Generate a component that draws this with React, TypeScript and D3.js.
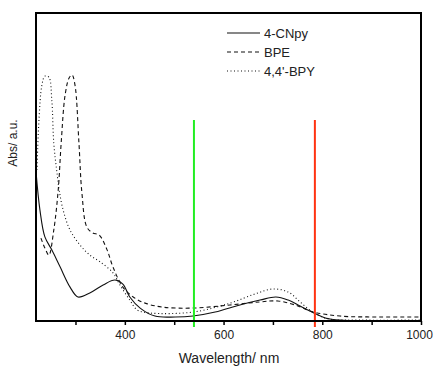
import { useEffect, useRef } from "react";
import * as d3 from "d3";

// wavelength (nm) and absorbance (a.u.)
const cnpyWl = [220, 228, 238, 252, 269, 289, 305, 329, 356, 380, 396, 410, 431, 461, 502, 538, 583, 633, 674, 706, 731, 755, 783, 806, 836, 900, 1000];
const cnpyAbs = [0.485, 0.36, 0.273, 0.231, 0.175, 0.11, 0.078, 0.091, 0.117, 0.133, 0.12, 0.078, 0.042, 0.016, 0.013, 0.016, 0.029, 0.052, 0.068, 0.078, 0.068, 0.049, 0.026, 0.01, 0.003, 0.001, 0.0];

const bpeWl = [230, 238, 246, 256, 265, 271, 279, 287, 293, 299, 307, 313, 323, 335, 348, 364, 376, 396, 417, 441, 477, 538, 613, 674, 710, 745, 783, 836, 917, 1000];
const bpeAbs = [0.269, 0.237, 0.214, 0.295, 0.425, 0.578, 0.734, 0.789, 0.799, 0.766, 0.578, 0.416, 0.305, 0.286, 0.279, 0.231, 0.175, 0.11, 0.078, 0.058, 0.045, 0.042, 0.052, 0.062, 0.065, 0.052, 0.029, 0.016, 0.013, 0.013];

const bpyWl = [222, 226, 232, 238, 246, 252, 256, 263, 267, 275, 289, 309, 329, 350, 376, 390, 410, 425, 451, 538, 613, 664, 700, 731, 755, 783, 816, 876, 1000];
const bpyAbs = [0.49, 0.653, 0.766, 0.795, 0.792, 0.718, 0.578, 0.474, 0.425, 0.36, 0.295, 0.247, 0.214, 0.192, 0.156, 0.117, 0.068, 0.036, 0.026, 0.029, 0.058, 0.088, 0.104, 0.094, 0.062, 0.026, 0.006, 0.003, 0.003];

const seriesNames = ["4-CNpy", "BPE", "4,4'-BPY"];
const majorTicks = [400, 600, 800, 1000];
const minorTicks = [300, 500, 700, 900];
const markerLines = [540, 785];

export default function App() {
  const svgRef = useRef<SVGSVGElement>(null);

  useEffect(() => {
    const svg = d3.select(svgRef.current);
    svg.selectAll("*").remove();

    const left = 36, top = 13, right = 421, bottom = 321;
    const x = d3.scaleLinear().domain([220, 1000]).range([left, right]);
    const y = d3.scaleLinear().domain([0, 1]).range([bottom, top]);

    const line = d3
      .line<[number, number]>()
      .x((d) => x(d[0]))
      .y((d) => y(d[1]))
      .curve(d3.curveCatmullRom.alpha(0.5));

    const series = [
      { wl: cnpyWl, abs: cnpyAbs, dash: null },
      { wl: bpeWl, abs: bpeAbs, dash: "4,3" },
      { wl: bpyWl, abs: bpyAbs, dash: "1,2.5" },
    ];

    series.forEach((s) => {
      const pts = s.wl.map((w, i) => [w, s.abs[i]] as [number, number]);
      svg
        .append("path")
        .attr("d", line(pts))
        .attr("fill", "none")
        .attr("stroke", "#111")
        .attr("stroke-width", 1.1)
        .attr("stroke-dasharray", s.dash);
    });

    // marker lines
    const colors = ["#22ee22", "#ff3311"];
    markerLines.forEach((w, i) => {
      svg
        .append("line")
        .attr("x1", x(w))
        .attr("x2", x(w))
        .attr("y1", 120)
        .attr("y2", 327)
        .attr("stroke", colors[i])
        .attr("stroke-width", 2);
    });

    // frame
    svg
      .append("rect")
      .attr("x", left)
      .attr("y", top)
      .attr("width", right - left)
      .attr("height", bottom - top)
      .attr("fill", "none")
      .attr("stroke", "#000")
      .attr("stroke-width", 2);

    // x axis
    const axis = d3
      .axisBottom(x)
      .tickValues([...majorTicks, ...minorTicks])
      .tickSize(4)
      .tickFormat((d) => (majorTicks.includes(+d) ? String(d) : ""));

    const g = svg.append("g").attr("transform", `translate(0,${bottom})`).call(axis);
    g.select(".domain").remove();
    g.selectAll("line").attr("stroke", "#000").attr("stroke-width", 1.5);
    g.selectAll<SVGTextElement, number>("text")
      .attr("font-family", "Liberation Sans, Arial, sans-serif")
      .attr("font-size", 12)
      .attr("fill", "#222")
      .attr("dy", "0.95em")
      .attr("dx", (d) => (d === 1000 ? -2 : 0));

    svg
      .append("text")
      .attr("x", 229)
      .attr("y", 363)
      .attr("text-anchor", "middle")
      .attr("font-family", "Liberation Sans, Arial, sans-serif")
      .attr("font-size", 14)
      .attr("fill", "#222")
      .text("Wavelength/ nm");

    svg
      .append("text")
      .attr("transform", "translate(17,143) rotate(-90)")
      .attr("text-anchor", "middle")
      .attr("font-family", "Liberation Sans, Arial, sans-serif")
      .attr("font-size", 12)
      .attr("fill", "#222")
      .text("Abs/ a.u.");

    // legend
    const dashes = [null, "4,3", "1,2.5"];
    seriesNames.forEach((name, i) => {
      const ly = 33 + i * 19;
      svg
        .append("line")
        .attr("x1", 227)
        .attr("x2", 260)
        .attr("y1", ly)
        .attr("y2", ly)
        .attr("stroke", "#111")
        .attr("stroke-width", 1.1)
        .attr("stroke-dasharray", dashes[i]);
      svg
        .append("text")
        .attr("x", 264)
        .attr("y", ly + 5)
        .attr("font-family", "Liberation Sans, Arial, sans-serif")
        .attr("font-size", 13)
        .attr("fill", "#222")
        .text(name);
    });
  }, []);

  return (
    <svg
      ref={svgRef}
      width={433}
      height={367}
      style={{ position: "absolute", left: 0, top: 0, background: "#fff" }}
    />
  );
}
